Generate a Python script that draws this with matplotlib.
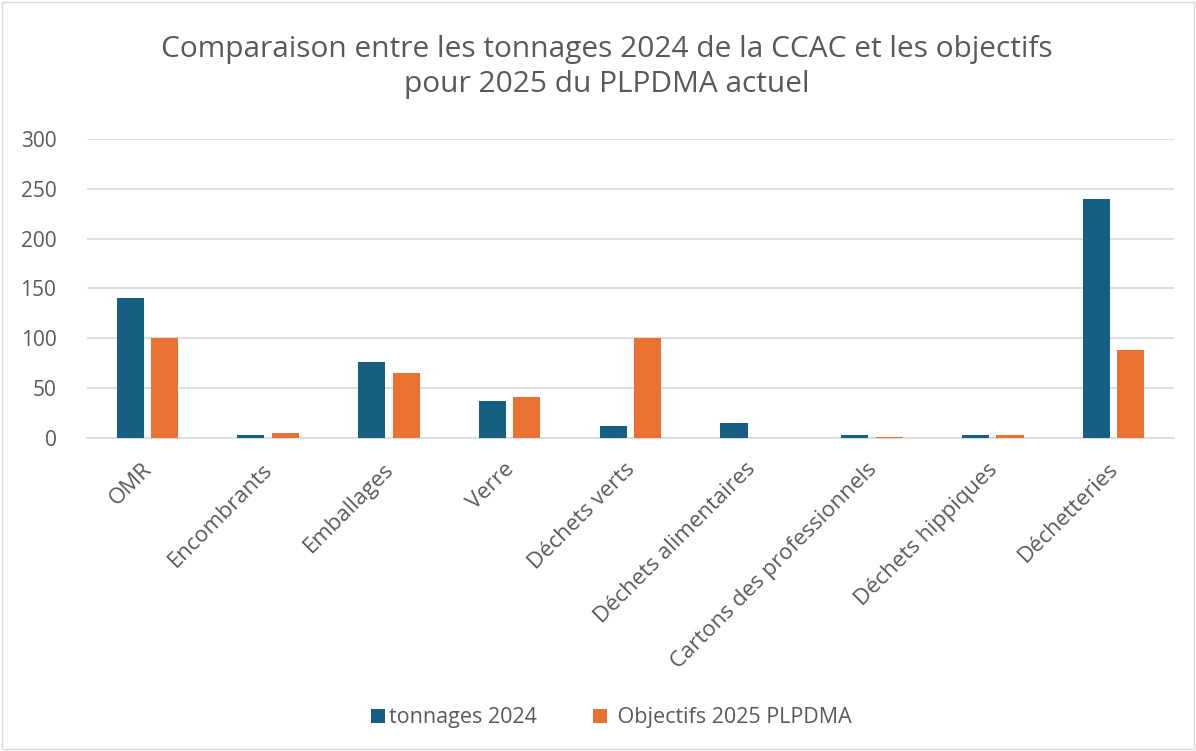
import matplotlib.pyplot as plt
import matplotlib.transforms as mtransforms
import numpy as np
from matplotlib.patches import Rectangle

categories = ['OMR', 'Encombrants', 'Emballages', 'Verre', 'Déchets verts',
              'Déchets alimentaires', 'Cartons des professionnels',
              'Déchets hippiques', 'Déchetteries']
tonnages_2024 = [140, 3, 76, 37, 12, 15, 3, 2.5, 240]
objectifs_2025 = [100, 5, 65, 41, 100, 0, 1, 3, 88]
yticks = [0, 50, 100, 150, 200, 250, 300]

BLUE = '#156082'
ORANGE = '#E97132'
TEXT = '#595959'

plt.rcParams['font.family'] = ['Open Sans', 'DejaVu Sans']

fig = plt.figure(figsize=(11.96, 7.51), dpi=100)
ax = fig.add_axes([0.0727, 0.4168, 0.9089, 0.3981])

x = np.arange(len(categories))
w = 0.225
gap = 0.03
ax.bar(x - w / 2 - gap, tonnages_2024, w, color=BLUE, label='tonnages 2024', zorder=3)
ax.bar(x + w / 2 + gap, objectifs_2025, w, color=ORANGE, label=' Objectifs 2025 PLPDMA', zorder=3)

ax.set_xlim(-0.5, len(categories) - 0.5)
ax.set_ylim(0, 300)
ax.set_yticks(yticks)
ax.set_yticklabels([str(v) for v in yticks], fontsize=15, color=TEXT)
ax.yaxis.grid(True, color='#D9D9D9', linewidth=1.2, zorder=0)
ax.tick_params(axis='y', length=0, pad=22)
ax.tick_params(axis='x', length=0, pad=15)
ax.set_xticks(x)
ax.set_xticklabels(categories, rotation=45, ha='right', rotation_mode='anchor',
                   fontsize=16, color=TEXT)
# nudge the rotated labels a little to the left
shift = mtransforms.ScaledTranslation(-0.06, 0, fig.dpi_scale_trans)
for lab in ax.get_xticklabels():
    lab.set_transform(lab.get_transform() + shift)
for s in ['top', 'right', 'left']:
    ax.spines[s].set_visible(False)
ax.spines['bottom'].set_color('#D9D9D9')
ax.spines['bottom'].set_linewidth(1.2)

fig.text(0.507, 0.911, 'Comparaison entre les tonnages 2024 de la CCAC et les objectifs\npour 2025 du PLPDMA actuel',
         ha='center', va='center', fontsize=21.5, color=TEXT, linespacing=1.3)

fig.legend(loc='center', bbox_to_anchor=(0.511, 0.044), ncol=2, frameon=False,
           fontsize=15.5, labelcolor=TEXT, handlelength=0.65, handleheight=0.65,
           handletextpad=0.2, columnspacing=2.6)

fig.patches.append(Rectangle((0.002, 0.002), 0.996, 0.996, transform=fig.transFigure,
                             fill=False, edgecolor='#D9D9D9', linewidth=1))

fig.savefig('out.png', dpi=100)
